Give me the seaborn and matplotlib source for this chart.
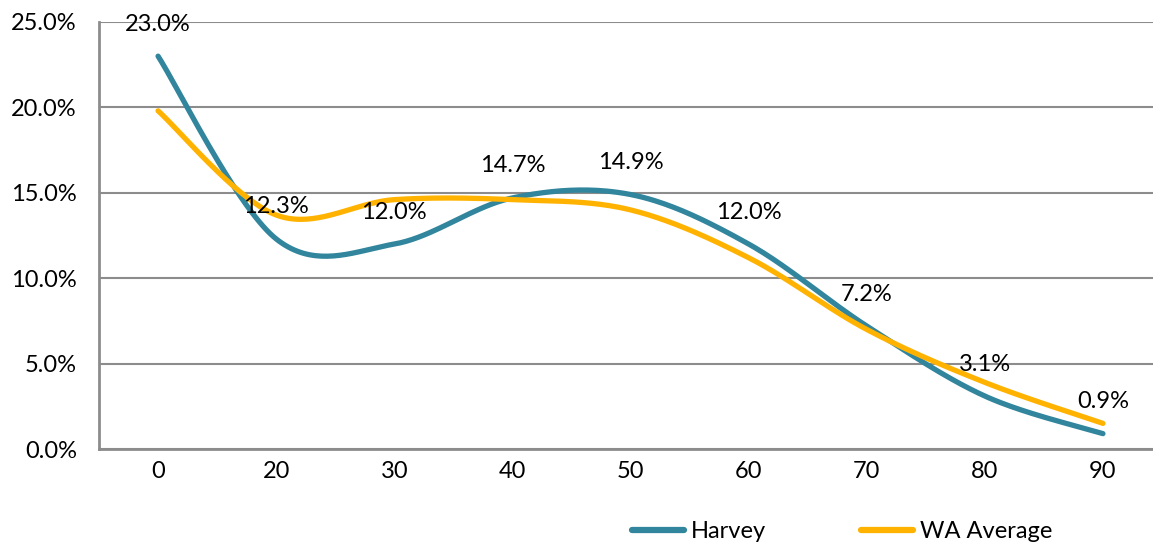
import numpy as np
import pandas as pd
import matplotlib
matplotlib.use("Agg")
import matplotlib.pyplot as plt
import seaborn as sns

# Age groups and share of population (%)
age_groups = ["0", "20", "30", "40", "50", "60", "70", "80", "90"]
harvey = [23.0, 12.3, 12.0, 14.7, 14.9, 12.0, 7.2, 3.1, 0.9]
wa_average = [19.8, 13.7, 14.6, 14.6, 14.0, 11.2, 7.0, 3.9, 1.5]

series_names = ["Harvey", "WA Average"]
series_colors = ["#31859C", "#FFB300"]


def smooth_curve(values, steps=40):
    """Cubic Bezier smoothing through every point (Catmull-Rom style)."""
    pts = np.column_stack([np.arange(len(values), dtype=float), np.asarray(values, float)])
    ext = np.vstack([pts[0], pts, pts[-1]])
    t = np.linspace(0, 1, steps)[:, None]
    out = []
    for i in range(len(pts) - 1):
        p0, p1, p2, p3 = ext[i], ext[i + 1], ext[i + 2], ext[i + 3]
        c1 = p1 + (p2 - p0) / 6.0
        c2 = p2 - (p3 - p1) / 6.0
        seg = ((1 - t) ** 3) * p1 + 3 * ((1 - t) ** 2) * t * c1 + 3 * (1 - t) * t ** 2 * c2 + t ** 3 * p2
        out.append(seg if i == 0 else seg[1:])
    return np.vstack(out)


frames = []
for name, vals in zip(series_names, [harvey, wa_average]):
    c = smooth_curve(vals)
    frames.append(pd.DataFrame({"pos": c[:, 0], "share": c[:, 1], "series": name}))
df = pd.concat(frames, ignore_index=True)

sns.set_theme(style="white")
plt.rcParams["font.family"] = ["Lato", "DejaVu Sans"]
FS = 17

fig = plt.figure(figsize=(11.53, 5.44), dpi=100)
ax = fig.add_axes([99 / 1153, 95 / 544, (1162 - 99) / 1153, (449 - 22) / 544])

sns.lineplot(data=df, x="pos", y="share", hue="series", palette=series_colors,
             hue_order=series_names, sort=False, estimator=None, linewidth=3.8,
             ax=ax, legend=True)
for line in ax.lines:
    line.set_solid_capstyle("round")

# Value labels above the Harvey points
for i, v in enumerate(harvey):
    ax.annotate(f"{v:.1f}%", (i, v), xytext=(0, 23), textcoords="offset points",
                ha="center", va="center", fontsize=FS, color="black")

grid_col = "#8C8C8C"
ax.set_ylim(0, 25)
ax.set_xlim(-0.5, len(age_groups) - 0.5)
ax.set_yticks(np.arange(0, 25.1, 5))
ax.set_yticklabels([f"{v:.1f}%" for v in np.arange(0, 25.1, 5)])
ax.set_xticks(range(len(age_groups)))
ax.set_xticklabels(age_groups)
ax.set_xticks(np.arange(-0.5, len(age_groups), 1), minor=True)
ax.yaxis.grid(True, color=grid_col, linewidth=1.5)
ax.set_axisbelow(True)
ax.tick_params(axis="x", which="major", length=0, pad=9, labelsize=FS, labelcolor="black")
ax.tick_params(axis="x", which="minor", length=6, width=1.5, color=grid_col, direction="out")
ax.tick_params(axis="y", length=7, width=1.5, color=grid_col, direction="out", pad=9,
               labelsize=FS, labelcolor="black")
ax.set_xlabel("")
ax.set_ylabel("")
for s in ["top", "right"]:
    ax.spines[s].set_visible(False)
for s in ["left", "bottom"]:
    ax.spines[s].set_color(grid_col)
    ax.spines[s].set_linewidth(2)

leg = ax.legend(loc="center", bbox_to_anchor=(0.699, -0.194), ncol=2, frameon=False,
                fontsize=FS, handlelength=2.2, handletextpad=0.3, columnspacing=4.0)
for h in leg.get_lines():
    h.set_linewidth(4.5)
for t in leg.get_texts():
    t.set_color("black")

fig.savefig("out.png", dpi=100)
